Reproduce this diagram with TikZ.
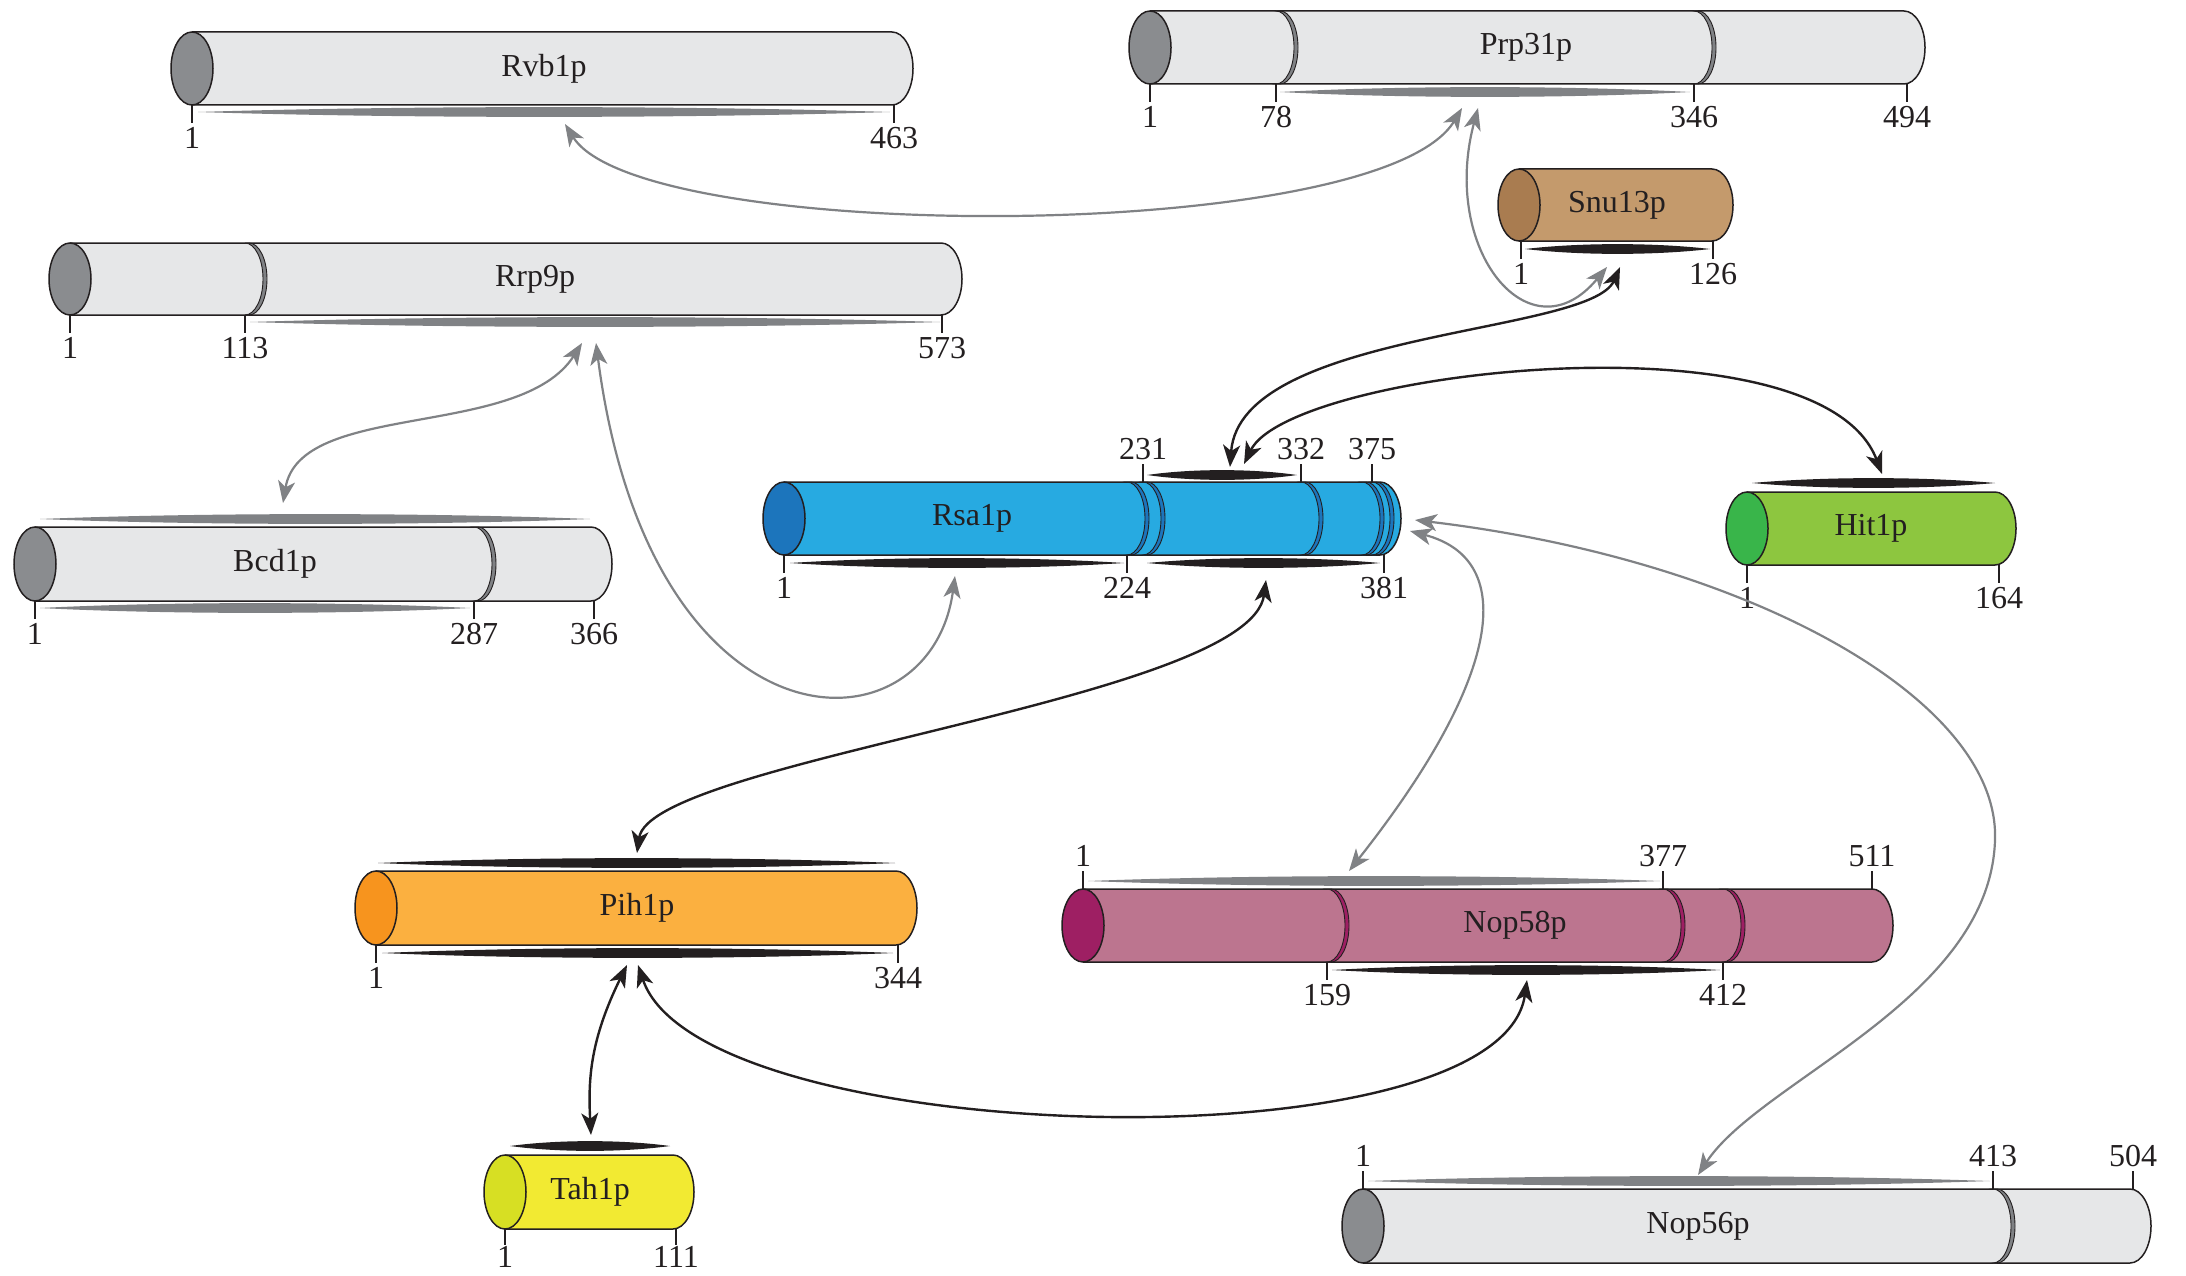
\documentclass[tikz,border=0pt]{standalone}
\usepackage{fontspec}
\setmainfont{Liberation Serif}
\usetikzlibrary{arrows.meta}
\definecolor{gbody}{HTML}{E6E7E8}
\definecolor{gcap}{HTML}{8A8C8F}
\definecolor{gdiv}{HTML}{808285}
\definecolor{bbody}{HTML}{27AAE1}
\definecolor{bcap}{HTML}{1C75BC}
\definecolor{nbody}{HTML}{C49A6C}
\definecolor{ncap}{HTML}{A97C50}
\definecolor{lbody}{HTML}{8DC63F}
\definecolor{lcap}{HTML}{39B54A}
\definecolor{obody}{HTML}{FBB040}
\definecolor{ocap}{HTML}{F7941E}
\definecolor{mbody}{HTML}{BC758F}
\definecolor{mcap}{HTML}{9E1F63}
\definecolor{ybody}{HTML}{F2EA32}
\definecolor{ycap}{HTML}{D7DF23}
\definecolor{ink}{HTML}{231F20}
\definecolor{gline}{HTML}{808285}
\tikzset{
  outl/.style={draw=ink, line width=1.5pt},
  plab/.style={font=\fontsize{32}{38}\selectfont, text=ink, inner sep=0pt},
  nlab/.style={font=\fontsize{32}{38}\selectfont, text=ink, inner sep=0pt},
  tickline/.style={draw=ink, line width=1.3pt},
  gcon/.style={draw=gline, line width=2.2pt, {Stealth[length=22pt,width=17pt,inset=6pt]}-{Stealth[length=22pt,width=17pt,inset=6pt]}},
  kcon/.style={draw=ink, line width=2.4pt, {Stealth[length=22pt,width=17pt,inset=6pt]}-{Stealth[length=22pt,width=17pt,inset=6pt]}},
}
% cylinder: #1 name, #2 cap centre x, #3 top, #4 bottom, #5 right x, #6 body, #7 cap, #8 label x, #9 label
\newcommand{\cylinder}[9]{%
  \pgfmathsetmacro{\cym}{(#3+#4)/2}%
  \pgfmathsetmacro{\cry}{(#4-#3)/2}%
  \pgfmathsetmacro{\cky}{0.5523*\cry}%
  \filldraw[fill=#6, outl] (#2,#3) -- ({#5-21},#3) .. controls ({#5-9.4},#3) and (#5,{\cym-\cky}) .. (#5,\cym) .. controls (#5,{\cym+\cky}) and ({#5-9.4},#4) .. ({#5-21},#4) -- (#2,#4);
  \filldraw[fill=#7, outl] (#2,\cym) ellipse [x radius=21, y radius=\cry];
  \node[plab] (#1) at (#8,\cym) {#9};
}
% divider: #1 x, #2 top, #3 bottom, #4 fill
\newcommand{\divider}[4]{%
  \pgfmathsetmacro{\dym}{(#2+#3)/2}%
  \pgfmathsetmacro{\dky}{0.5523*(#3-#2)/2}%
  \filldraw[fill=#4, draw=ink, line width=0.9pt] (#1,#2) .. controls ({#1+10},#2) and ({#1+18},{\dym-\dky}) .. ({#1+18},\dym) .. controls ({#1+18},{\dym+\dky}) and ({#1+10},#3) .. (#1,#3) -- ({#1+4},#3) .. controls ({#1+14},#3) and ({#1+22},{\dym+\dky}) .. ({#1+22},\dym) .. controls ({#1+22},{\dym-\dky}) and ({#1+14},#2) .. ({#1+4},#2) -- cycle;
}
% lens bar: #1 x1, #2 x2, #3 y, #4 colour
\newcommand{\lensbar}[4]{%
  \fill[#4] (#1,#3) .. controls ({#1+0.3*(#2-#1)},{#3-6.5}) and ({#2-0.3*(#2-#1)},{#3-6.5}) .. (#2,#3) .. controls ({#2-0.3*(#2-#1)},{#3+6.5}) and ({#1+0.3*(#2-#1)},{#3+6.5}) .. cycle;
}
% tick below: #1 name, #2 x, #3 bottom y, #4 text
\newcommand{\tickb}[4]{%
  \draw[tickline] (#2,#3) -- (#2,{#3+18});
  \node[nlab] (#1) at (#2,{#3+33}) {#4};
}
% tick below, label set a little closer
\newcommand{\tickbc}[4]{%
  \draw[tickline] (#2,#3) -- (#2,{#3+16});
  \node[nlab] (#1) at (#2,{#3+28}) {#4};
}
% tick above
\newcommand{\ticka}[4]{%
  \draw[tickline] (#2,#3) -- (#2,{#3-18});
  \node[nlab] (#1) at (#2,{#3-33}) {#4};
}
\begin{document}
\begin{tikzpicture}[x=1pt,y=-1pt]
\fill[white] (0,0) rectangle (2186,1276);
\useasboundingbox (0,0) rectangle (2186,1276);

% Rvb1p
\cylinder{rvb}{192}{32}{105}{913}{gbody}{gcap}{544}{Rvb1p}
\lensbar{198}{890}{112}{gdiv}
\tickb{rvb1}{192}{105}{1}
\tickb{rvb2}{894}{105}{463}

% Prp31p
\cylinder{prp}{1150}{11}{84}{1925}{gbody}{gcap}{1526}{Prp31p}
\divider{1276}{11}{84}{gdiv}
\divider{1694}{11}{84}{gdiv}
\lensbar{1280}{1690}{92}{gdiv}
\tickb{prp1}{1150}{84}{1}
\tickb{prp2}{1276}{84}{78}
\tickb{prp3}{1694}{84}{346}
\tickb{prp4}{1907}{84}{494}

% Snu13p
\cylinder{snu}{1519}{169}{241}{1733}{nbody}{ncap}{1617}{Snu13p}
\lensbar{1525}{1710}{249}{ink}
\tickb{snu1}{1521}{241}{1}
\tickb{snu2}{1713}{241}{126}

% Rrp9p
\cylinder{rrp}{70}{243}{315}{962}{gbody}{gcap}{535}{Rrp9p}
\divider{245}{243}{315}{gdiv}
\lensbar{250}{940}{322}{gdiv}
\tickb{rrp1}{70}{315}{1}
\tickb{rrp2}{245}{315}{113}
\tickb{rrp3}{942}{315}{573}

% Bcd1p
\cylinder{bcd}{35}{527}{601}{612}{gbody}{gcap}{275}{Bcd1p}
\divider{474}{527}{601}{gdiv}
\lensbar{40}{590}{519}{gdiv}
\lensbar{40}{470}{608}{gdiv}
\tickb{bcd1}{35}{601}{1}
\tickb{bcd2}{474}{601}{287}
\tickb{bcd3}{594}{601}{366}

% Rsa1p
\cylinder{rsa}{784}{482}{555}{1401}{bbody}{bcap}{972}{Rsa1p}
\divider{1127}{482}{555}{bcap}
\divider{1143}{482}{555}{bcap}
\divider{1301}{482}{555}{bcap}
\divider{1362}{482}{555}{bcap}
\divider{1372}{482}{555}{bcap}
\lensbar{1147}{1297}{475}{ink}
\lensbar{790}{1124}{563}{ink}
\lensbar{1147}{1380}{563}{ink}
\ticka{rsa4}{1143}{482}{231}
\ticka{rsa5}{1301}{482}{332}
\ticka{rsa6}{1372}{482}{375}
\tickb{rsa1}{784}{555}{1}
\tickb{rsa2}{1127}{555}{224}
\tickb{rsa3}{1384}{555}{381}

% Hit1p
\cylinder{hit}{1747}{492}{565}{2016}{lbody}{lcap}{1871}{Hit1p}
\lensbar{1752}{1995}{483}{ink}
\tickb{hit1}{1747}{565}{1}
\tickb{hit2}{1999}{565}{164}

% Pih1p
\cylinder{pih}{376}{871}{945}{917}{obody}{ocap}{637}{Pih1p}
\lensbar{378}{895}{863}{ink}
\lensbar{382}{893}{953}{ink}
\tickb{pih1}{376}{945}{1}
\tickb{pih2}{898}{945}{344}

% Nop58p
\cylinder{nop58}{1083}{889}{962}{1893}{mbody}{mcap}{1515}{Nop58p}
\divider{1327}{889}{962}{mcap}
\divider{1663}{889}{962}{mcap}
\divider{1723}{889}{962}{mcap}
\lensbar{1088}{1660}{881}{gdiv}
\lensbar{1332}{1720}{970}{ink}
\ticka{n58a}{1083}{889}{1}
\ticka{n58b}{1663}{889}{377}
\ticka{n58c}{1872}{889}{511}
\tickb{n58d}{1327}{962}{159}
\tickb{n58e}{1723}{962}{412}

% Tah1p
\cylinder{tah}{505}{1155}{1229}{694}{ybody}{ycap}{590}{Tah1p}
\lensbar{510}{670}{1146}{ink}
\tickbc{tah1}{505}{1229}{1}
\tickbc{tah2}{676}{1229}{111}

% Nop56p
\cylinder{nop56}{1363}{1189}{1263}{2151}{gbody}{gcap}{1698}{Nop56p}
\divider{1993}{1189}{1263}{gdiv}
\lensbar{1368}{1990}{1181}{gdiv}
\ticka{n56a}{1363}{1189}{1}
\ticka{n56b}{1993}{1189}{413}
\ticka{n56c}{2133}{1189}{504}

% connector end points
\coordinate (rvbA) at (565,124);
\coordinate (prpA) at (1462,108);
\coordinate (prpB) at (1478,108);
\coordinate (snuA) at (1607,267);
\coordinate (snuB) at (1620,267);
\coordinate (rsaT1) at (1230,467);
\coordinate (rsaT2) at (1244,464);
\coordinate (hitA) at (1882,474);
\coordinate (rrpA) at (582,343);
\coordinate (rrpB) at (596,343);
\coordinate (bcdA) at (283,503);
\coordinate (rsaB1) at (955,576);
\coordinate (rsaB2) at (1266,580);
\coordinate (pihT) at (637,853);
\coordinate (rsaR1) at (1415,520);
\coordinate (rsaR2) at (1410,531);
\coordinate (n58T) at (1349,871);
\coordinate (n56T) at (1698,1175);
\coordinate (pihB1) at (627,965);
\coordinate (pihB2) at (638,965);
\coordinate (tahT) at (591,1135);
\coordinate (n58B) at (1527,980);

% connectors
\draw[gcon] (rvbA) .. controls (640,245) and (1380,245) .. (prpA);
\draw[gcon] (prpB) .. controls (1440,250) and (1530,360) .. (snuA);
\draw[kcon] (snuB) .. controls (1590,335) and (1240,330) .. (rsaT1);
\draw[kcon] (rsaT2) .. controls (1290,370) and (1820,310) .. (hitA);
\draw[gcon] (rrpA) .. controls (520,440) and (300,400) .. (bcdA);
\draw[gcon] (rrpB) .. controls (650,760) and (930,760) .. (rsaB1);
\draw[kcon] (rsaB2) .. controls (1250,700) and (650,760) .. (pihT);
\draw[gcon] (rsaR2) .. controls (1520,560) and (1500,680) .. (n58T);
\draw[gcon] (rsaR1) .. controls (1750,560) and (2000,700) .. (1995,840) .. controls (1990,1000) and (1760,1080) .. (n56T);
\draw[kcon] (pihB1) .. controls (590,1040) and (588,1080) .. (tahT);
\draw[kcon] (pihB2) .. controls (700,1150) and (1500,1170) .. (n58B);
\end{tikzpicture}
\end{document}
